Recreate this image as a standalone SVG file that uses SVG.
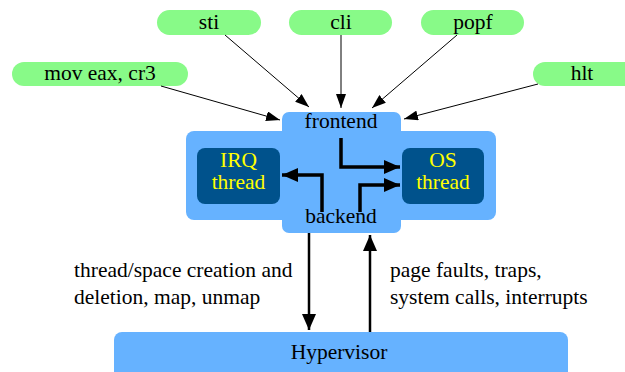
<svg xmlns="http://www.w3.org/2000/svg" width="625" height="372" viewBox="0 0 625 372">
<defs>
<style>
text{font-family:"Liberation Serif","Times New Roman",serif;font-size:21.5px;fill:#000}
.pill{fill:#88fa88}
.blue{fill:#66b2ff}
.dark{fill:#00528c}
.yel{fill:#ffff00}
.thin{stroke:#000;stroke-width:1;fill:none}
.thick{stroke:#000;stroke-width:3.5;fill:none}
.mid{stroke:#000;stroke-width:2.5;fill:none}
</style>
<marker id="ah" markerWidth="14" markerHeight="10" refX="14" refY="5" orient="auto" markerUnits="userSpaceOnUse"><path d="M0,0 L14,5 L0,10 Z" fill="#000"/></marker>
<marker id="ahb" markerWidth="16" markerHeight="14" refX="16" refY="7" orient="auto" markerUnits="userSpaceOnUse"><path d="M0,0 L16,7 L0,14 Z" fill="#000"/></marker>
</defs>
<rect width="625" height="372" fill="#fff"/>
<g id="core">
<rect class="blue" x="186" y="131" width="310" height="89" rx="8"/>
<rect class="blue" x="282" y="112" width="119" height="121" rx="7"/>
</g>
<g id="frontend"><text x="341" y="128" text-anchor="middle">frontend</text></g>
<g id="backend"><text x="341" y="223" text-anchor="middle">backend</text></g>
<g id="irq">
<rect class="dark" x="197" y="148" width="83" height="56" rx="8"/>
<text class="yel" x="238.5" y="167" text-anchor="middle">IRQ</text>
<text class="yel" x="238.5" y="189" text-anchor="middle">thread</text>
</g>
<g id="os">
<rect class="dark" x="402" y="148" width="82" height="56" rx="8"/>
<text class="yel" x="443" y="167" text-anchor="middle">OS</text>
<text class="yel" x="443" y="189" text-anchor="middle">thread</text>
</g>
<g id="sti"><rect class="pill" x="157" y="10" width="104" height="25" rx="12.5"/><text x="209" y="29" text-anchor="middle">sti</text></g>
<g id="cli"><rect class="pill" x="289" y="10" width="103" height="25" rx="12.5"/><text x="341" y="29" text-anchor="middle">cli</text></g>
<g id="popf"><rect class="pill" x="421" y="10" width="103" height="25" rx="12.5"/><text x="473" y="29" text-anchor="middle">popf</text></g>
<g id="mov"><rect class="pill" x="12" y="62" width="176" height="24" rx="12"/><text x="100" y="80" text-anchor="middle">mov eax, cr3</text></g>
<g id="hlt"><rect class="pill" x="533" y="62" width="104" height="24" rx="12"/><text x="582" y="80" text-anchor="middle">hlt</text></g>
<g id="hypervisor"><rect class="blue" x="114" y="332" width="454" height="50" rx="8"/><text x="339" y="359" text-anchor="middle">Hypervisor</text></g>
<g id="connectors">
<line class="thin" x1="225" y1="35" x2="309" y2="107" marker-end="url(#ah)"/>
<line class="thin" x1="341" y1="35" x2="341" y2="108" marker-end="url(#ah)"/>
<line class="thin" x1="457" y1="35" x2="372" y2="108" marker-end="url(#ah)"/>
<line class="thin" x1="161" y1="86" x2="280" y2="120" marker-end="url(#ah)"/>
<line class="thin" x1="538" y1="84" x2="404" y2="119" marker-end="url(#ah)"/>
<polyline class="thick" points="341,138 341,167 400,167" marker-end="url(#ahb)"/>
<polyline class="thick" points="360,212 360,185 400,185" marker-end="url(#ahb)"/>
<polyline class="thick" points="322,212 322,175 282,175" marker-end="url(#ahb)"/>
<line class="mid" x1="309" y1="233" x2="309" y2="330" marker-end="url(#ahb)"/>
<line class="mid" x1="370" y1="332" x2="370" y2="235" marker-end="url(#ahb)"/>
</g>
<g id="labels">
<text x="74" y="277">thread/space creation and</text>
<text x="74" y="304">deletion, map, unmap</text>
<text x="390" y="277">page faults, traps,</text>
<text x="390" y="304">system calls, interrupts</text>
</g>
</svg>
